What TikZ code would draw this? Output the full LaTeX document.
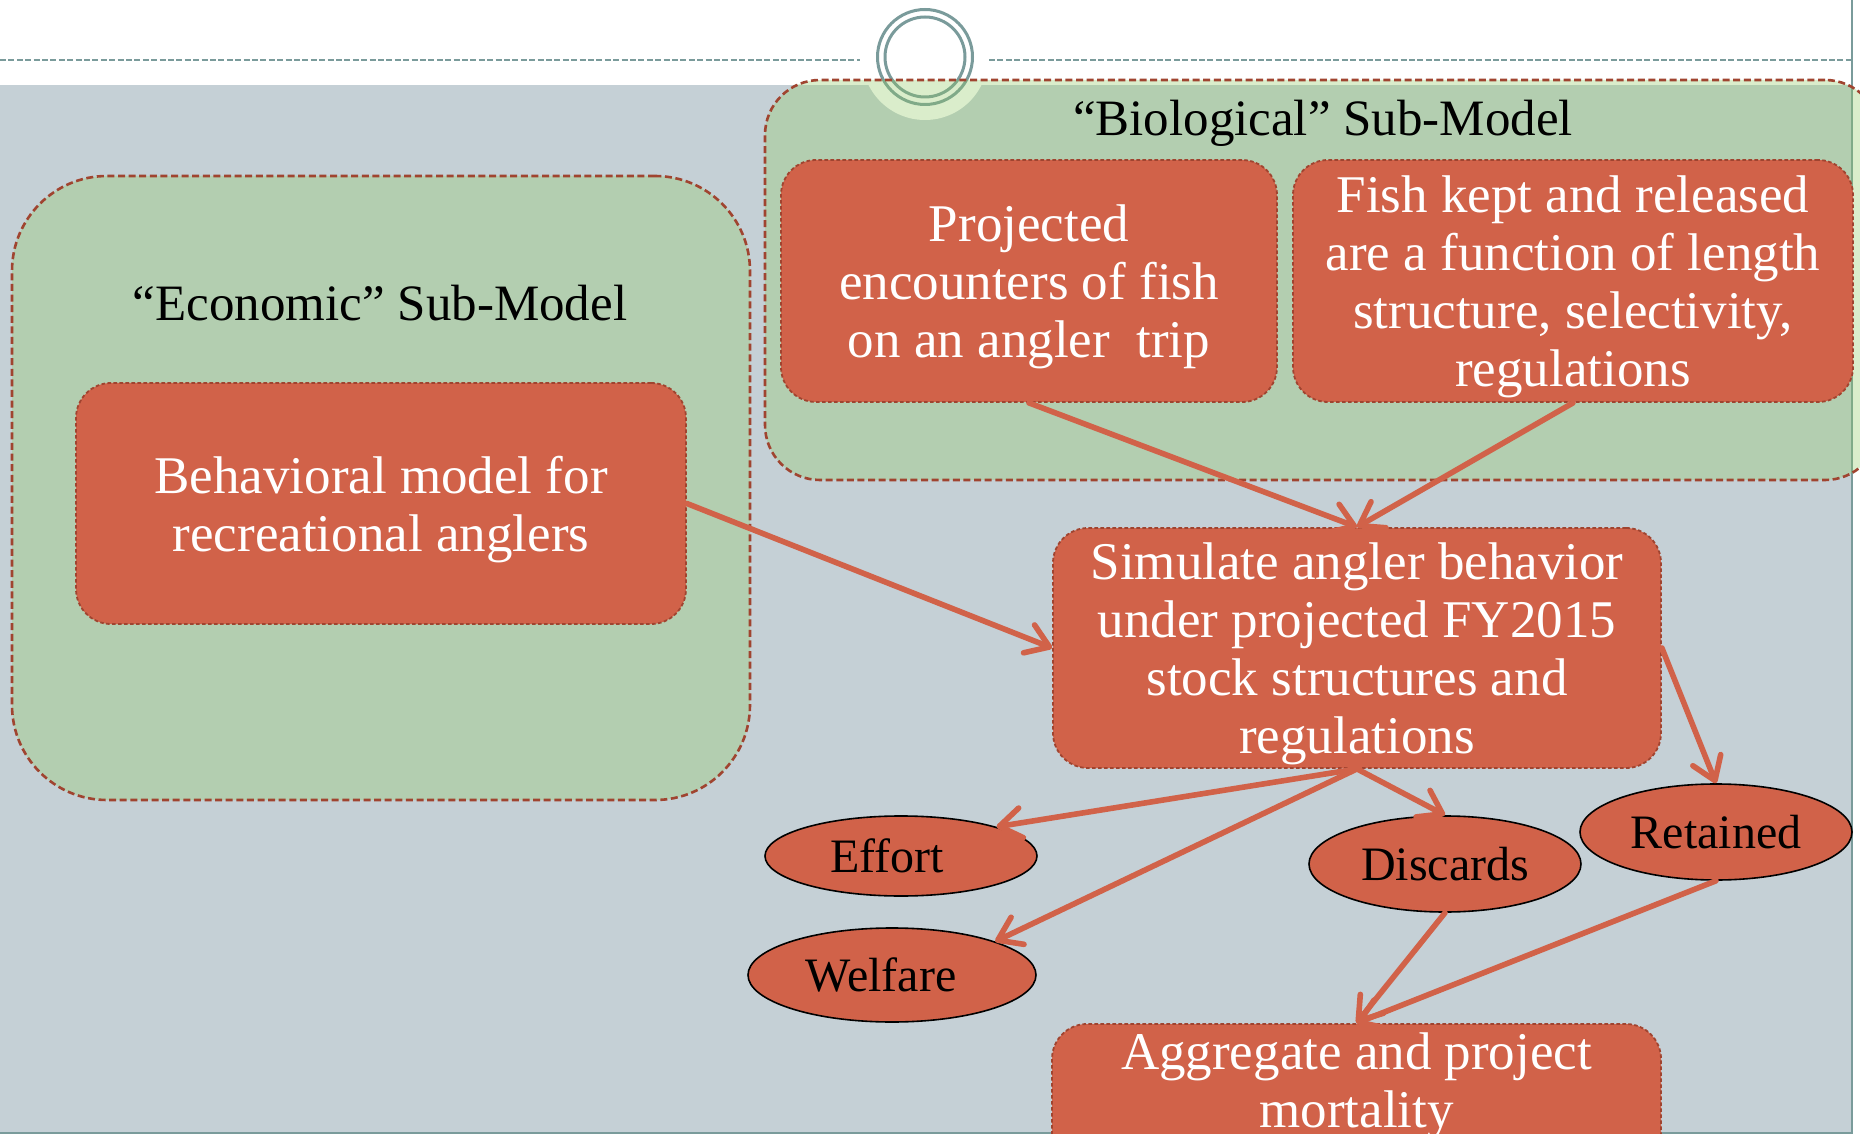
\documentclass[tikz,border=0pt]{standalone}
\usepackage{fontspec}
\setmainfont{Liberation Serif}
\usetikzlibrary{arrows.meta,shapes.geometric}
\definecolor{bgGray}{RGB}{197,208,214}
\definecolor{grnFill}{RGB}{142,202,96}
\definecolor{redFill}{RGB}{209,98,73}
\definecolor{redLine}{RGB}{160,68,48}
\definecolor{tealLine}{RGB}{122,155,155}
\tikzset{
  subbox/.style={draw=redLine, line width=1.3pt, dash pattern=on 3.5pt off 1.8pt,
    fill=grnFill, fill opacity=0.32, inner sep=0pt},
  redbox/.style={draw=redLine, line width=0.9pt, dash pattern=on 1.8pt off 1.2pt,
    fill=redFill, rounded corners=17.5pt, inner sep=0pt},
  whitetext/.style={text=white, align=center, inner sep=0pt, font=\fontsize{26.5}{29}\selectfont},
  titletext/.style={text=black, inner sep=0pt, font=\fontsize{25.5}{29}\selectfont},
  ell/.style={ellipse, draw=black, line width=0.8pt, fill=redFill, inner sep=0pt,
    font=\fontsize{24}{27}\selectfont},
  arr/.style={draw=redFill, line width=2.8pt, line cap=round,
    -{Straight Barb[length=11pt,width=15pt,round]}},
}
\begin{document}
\begin{tikzpicture}[x=0.5pt,y=-0.5pt]
\useasboundingbox (0,0) rectangle (1860,1134);
% background
\fill[white] (0,0) rectangle (1860,1134);
\fill[bgGray] (0,85) rectangle (1852,1134);
\draw[tealLine, line width=0.7pt, dash pattern=on 3pt off 1.2pt] (0,60) -- (860,60);
\draw[tealLine, line width=0.7pt, dash pattern=on 3pt off 1.2pt] (989,60) -- (1852,60);
\fill[white] (925,57) circle[radius=31.5pt];
\draw[tealLine, line width=1.5pt] (925,57) circle[radius=23.75pt];
\draw[tealLine, line width=1.5pt] (925,57) circle[radius=20pt];
\draw[tealLine, line width=1pt] (1852,0) -- (1852,1134);
\draw[tealLine, line width=1pt] (0,1132.5) -- (1852,1132.5);
% sub-model boxes
\node[subbox, rounded corners=27.5pt, minimum width=557.5pt, minimum height=200pt] (bio) at (1322.5,280) {};
\node[subbox, rounded corners=47.5pt, minimum width=369pt, minimum height=312pt] (econ) at (381,488) {};
\node[titletext] (biotitle) at (1323,123) {“Biological” Sub-Model};
\node[titletext] (econtitle) at (380,303) {“Economic” Sub-Model};
% red boxes
\node[redbox, minimum width=305pt, minimum height=120.5pt] (behav) at (381,503.5) {};
\node[whitetext] (behavtxt) at (381,510) {Behavioral model for\\recreational anglers};
\node[redbox, minimum width=248pt, minimum height=121pt] (proj) at (1029,281) {};
\node[whitetext] (projtxt) at (1029,287) {Projected\\encounters of fish\\on an angler\ \ trip};
\node[redbox, minimum width=280pt, minimum height=121pt] (fish) at (1573,281) {};
\node[whitetext] (fishtxt) at (1573,287) {Fish kept and released\\are a function of length\\structure, selectivity,\\regulations};
\node[redbox, minimum width=304pt, minimum height=120pt] (sim) at (1357,648) {};
\node[whitetext] (simtxt) at (1357,654) {Simulate angler behavior\\under projected FY2015\\stock structures and\\regulations};
\node[redbox, minimum width=304.5pt, minimum height=120pt] (agg) at (1356.5,1144) {};
\node[whitetext] (aggtxt) at (1356.5,1086) {Aggregate and project\\mortality};
% ellipses
\node[ell, minimum width=136pt, minimum height=40pt] (effort) at (901,856) {Effort\hspace*{14pt}};
\node[ell, minimum width=144pt, minimum height=47pt] (welfare) at (892,975) {Welfare\hspace*{11pt}};
\node[ell, minimum width=136pt, minimum height=48pt] (discards) at (1445,864) {Discards};
\node[ell, minimum width=136pt, minimum height=48pt] (retained) at (1716,832) {Retained};
% arrows
\draw[arr] (proj.south) -- (sim.north);
\draw[arr] (fish.south) -- (sim.north);
\draw[arr] (behav.east) -- (sim.west);
\draw[arr] (sim.south) -- (effort.17);
\draw[arr] (sim.south) -- (welfare.18);
\draw[arr] (sim.south) -- (discards.north);
\draw[arr] (sim.east) -- (retained.north);
\draw[arr] (discards.south) -- (agg.north);
\draw[arr] (retained.south) -- (agg.north);
\end{tikzpicture}
\end{document}
